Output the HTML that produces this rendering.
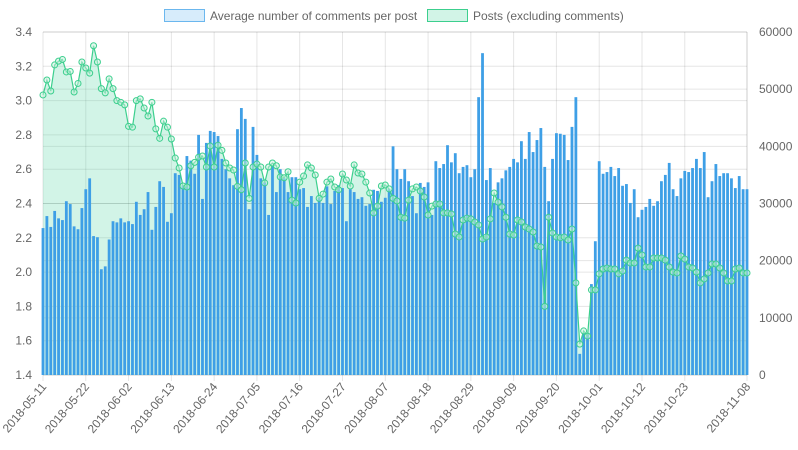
<!DOCTYPE html>
<html><head><meta charset="utf-8"><style>
html,body{margin:0;padding:0;background:#fff;}
svg{display:block;font-family:"Liberation Sans",sans-serif;}
</style></head><body>
<svg id="chart" width="798" height="450" xmlns="http://www.w3.org/2000/svg"></svg>
<script>
const startDate = "2018-05-11";
const postsValues = [25700,27800,25900,28700,27400,27100,30400,29900,26000,25500,29200,32500,34400,24300,24100,18500,19000,23700,26900,26700,27400,26700,26900,26400,30300,28000,29000,32000,25400,29400,33900,32900,26800,28300,35300,35000,33200,38300,37500,35200,42000,30800,40600,42700,
42500,41800,37800,36000,34400,33200,43000,46700,44800,29000,43400,38500,34400,33700,28000,36600,32000,36000,34400,32000,34600,34600,32500,32700,29400,31300,30100,31000,30100,33000,29900,32200,33200,32700,26900,32500,32000,30800,31100,29600,29900,32400,32200,30300,31000,32500,
40000,36000,34300,36000,33900,31300,28300,33600,32900,33700,28000,37400,36200,36900,40200,37200,38800,35300,36400,36700,34600,36000,48600,56300,34100,36200,30100,33700,34400,35800,36400,37800,37200,40900,37800,42500,39000,41100,43200,36400,30400,37800,42300,42200,42000,
37600,43400,48600,3700,7300,7300,15900,23400,37400,35200,35500,36400,34800,36200,33100,33400,30100,32500,27600,28900,29400,30800,29600,30400,33900,35000,37100,32500,31300,34400,35700,35500,36200,37800,36200,39000,31100,33900,36900,34800,35300,35300,34400,32700,34800,32500,32500];
const commentValues = [3.033,3.12,3.056,3.208,3.23,3.24,3.167,3.17,3.05,3.10,3.225,3.19,3.16,3.32,3.225,3.07,3.045,3.127,3.07,3.0,2.99,2.975,2.85,2.845,3.0,3.01,2.957,2.91,2.99,2.835,2.78,2.88,2.845,2.776,2.665,2.607,2.502,2.496,2.62,2.64,2.67,2.677,2.613,2.735,
2.613,2.74,2.71,2.636,2.607,2.595,2.50,2.48,2.636,2.43,2.613,2.63,2.613,2.52,2.613,2.636,2.62,2.555,2.55,2.585,2.42,2.403,2.525,2.56,2.625,2.607,2.566,2.43,2.455,2.525,2.543,2.496,2.48,2.572,2.537,2.502,2.625,2.578,2.572,2.525,2.461,2.345,2.385,2.502,2.508,2.485,
2.43,2.415,2.32,2.315,2.42,2.485,2.496,2.473,2.438,2.333,2.385,2.397,2.397,2.345,2.345,2.339,2.222,2.205,2.304,2.315,2.31,2.292,2.275,2.193,2.205,2.31,2.461,2.408,2.38,2.32,2.222,2.216,2.304,2.292,2.263,2.251,2.234,2.152,2.146,1.80,2.32,2.228,2.205,2.20,2.205,2.187,
2.251,1.937,1.58,1.657,1.627,1.896,1.896,1.99,2.018,2.024,2.018,2.018,1.99,2.006,2.07,2.053,2.053,2.14,2.10,2.03,2.03,2.082,2.082,2.082,2.07,2.03,2.0,1.995,2.094,2.076,2.03,2.024,2.0,1.937,1.96,1.995,2.047,2.047,2.024,1.995,1.948,1.948,2.018,2.024,1.995,1.995];
const leftTicks = [1.4,1.6,1.8,2.0,2.2,2.4,2.6,2.8,3.0,3.2,3.4];
const rightTicks = [0,10000,20000,30000,40000,50000,60000];

const NS="http://www.w3.org/2000/svg";
const svg=document.getElementById('chart');
const L=43,R=747,T=32,B=375;
const n=commentValues.length;
const xS=i=>L+i*(R-L)/(n-1);
const yL=v=>B-(v-1.4)/(3.4-1.4)*(B-T);
const yR=v=>B-v/60000*(B-T);
function mk(tag,attrs,parent){const e=document.createElementNS(NS,tag);for(const k in attrs)e.setAttribute(k,attrs[k]);(parent||svg).appendChild(e);return e;}
function fmtDate(i){const d=new Date(startDate+"T00:00:00Z");d.setUTCDate(d.getUTCDate()+i);return d.toISOString().slice(0,10);}

// grid
const grid=mk('g',{});


leftTicks.forEach(v=>{mk('line',{x1:L,x2:R,y1:yL(v),y2:yL(v),stroke:'rgba(0,0,0,0.1)'},grid);
 const t=mk('text',{x:L-11,y:yL(v)+4,'text-anchor':'end','font-size':12,fill:'#666'});t.textContent=v.toFixed(1);
 
 });
rightTicks.forEach(v=>{mk('line',{x1:L,x2:R,y1:yR(v),y2:yR(v),stroke:'rgba(0,0,0,0.1)'},grid);
 const t=mk('text',{x:R+12,y:yR(v)+4,'font-size':12,fill:'#666'});t.textContent=String(v);
 
 });
const labelIdx=[];for(let i=0;i<n;i+=11)if(i<n-8)labelIdx.push(i);labelIdx.push(n-1);
labelIdx.forEach(i=>{const x=xS(i);mk('line',{x1:x,x2:x,y1:T,y2:B+6,stroke:'rgba(0,0,0,0.1)'},grid);
 const t=mk('text',{x:x+4,y:B+12,'text-anchor':'end','font-size':12,fill:'#666',transform:`rotate(-50 ${x+4} ${B+12})`});t.textContent=fmtDate(i);
 
 });
mk('line',{x1:R,x2:R,y1:T,y2:B,stroke:'rgba(0,0,0,0.1)'},grid);

// line fill
let d=`M${xS(0)},${B}`;commentValues.forEach((v,i)=>d+=` L${xS(i)},${yL(v)}`);d+=` L${xS(n-1)},${B} Z`;
const area=mk('path',{d,fill:'rgba(75,210,160,0.25)'});



// bars
const bw=2.8;
postsValues.forEach((v,i)=>{const b=mk('rect',{x:xS(i)-bw/2,y:yR(v),width:bw,height:B-yR(v),fill:'#3e9fe6'});
 
 });

// line
let ld='';commentValues.forEach((v,i)=>ld+=(i?' L':'M')+xS(i)+','+yL(v));
const ln=mk('path',{d:ld,fill:'none',stroke:'#3ccf8e','stroke-width':1.2});


commentValues.forEach((v,i)=>{const c=mk('circle',{cx:xS(i),cy:yL(v),r:3,fill:'rgba(200,240,220,0.5)',stroke:'#3ccf8e','stroke-width':1});
 
 });

// legend
const lg=mk('g',{});


const e1=mk('g',{},lg);


mk('rect',{x:164.5,y:9.5,width:40,height:12,fill:'rgba(54,162,235,0.2)',stroke:'#6bb7ee'},e1);
const t1=mk('text',{x:210,y:20,'font-size':12,fill:'#666'},e1);t1.textContent='Average number of comments per post';
const e2=mk('g',{},lg);


mk('rect',{x:427.5,y:9.5,width:40,height:12,fill:'rgba(75,210,160,0.25)',stroke:'#3ccf8e'},e2);
const t2=mk('text',{x:473,y:20,'font-size':12,fill:'#666'},e2);t2.textContent='Posts (excluding comments)';
</script>
</body></html>
